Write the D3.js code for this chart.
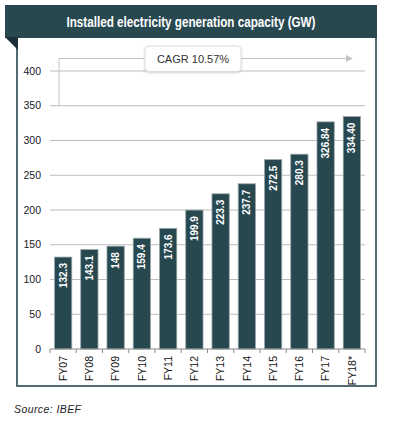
<!DOCTYPE html>
<html>
<head>
<meta charset="utf-8">
<script src="https://cdn.jsdelivr.net/npm/d3@7"></script>
<style>
  body { margin: 0; background: #fff; }
  svg { display: block; font-family: Arial, "Liberation Sans", sans-serif; }
</style>
</head>
<body>
<div id="chart"></div>
<script>
// chart data
const years = ["FY07", "FY08", "FY09", "FY10", "FY11", "FY12", "FY13", "FY14", "FY15", "FY16", "FY17", "FY18*"];
const capacity = [132.3, 143.1, 148, 159.4, 173.6, 199.9, 223.3, 237.7, 272.5, 280.3, 326.84, 334.40];
const valueLabels = ["132.3", "143.1", "148", "159.4", "173.6", "199.9", "223.3", "237.7", "272.5", "280.3", "326.84", "334.40"];
const yTicks = [0, 50, 100, 150, 200, 250, 300, 350, 400];
const cagrText = "CAGR 10.57%";
const cagrFrom = 350; // level where the bracket starts

const width = 393, height = 424;
const dark = "#284850";

const svg = d3.select("#chart").append("svg")
  .attr("width", width)
  .attr("height", height);

// soft shadow for the CAGR badge
svg.append("defs").append("filter")
  .attr("id", "shadow")
  .attr("x", "-20%").attr("y", "-40%")
  .attr("width", "140%").attr("height", "180%")
  .append("feDropShadow")
  .attr("dx", 0).attr("dy", 1)
  .attr("stdDeviation", 1.2)
  .attr("flood-color", "#000")
  .attr("flood-opacity", 0.18);

// frame + header
svg.append("rect")
  .attr("x", 17).attr("y", 37)
  .attr("width", 359).attr("height", 349)
  .attr("fill", "none")
  .attr("stroke", dark)
  .attr("stroke-width", 1.6);

svg.append("rect")
  .attr("x", 5).attr("y", 5)
  .attr("width", 372).attr("height", 33)
  .attr("fill", dark);

svg.append("path")
  .attr("d", "M5,37 L18,37 L18,50 Z")
  .attr("fill", "#1b3037");

svg.append("text")
  .attr("x", 191).attr("y", 27)
  .attr("text-anchor", "middle")
  .attr("fill", "#fff")
  .attr("font-size", 14.5)
  .attr("font-weight", "bold")
  .attr("textLength", 249)
  .attr("lengthAdjust", "spacingAndGlyphs")
  .text("Installed electricity generation capacity (GW)");

// scales
const x = d3.scaleBand()
  .domain(years)
  .range([50, 365])
  .paddingInner(0.34)
  .paddingOuter(0.17);

const y = d3.scaleLinear()
  .domain([0, 400])
  .range([349, 71]);

// gridlines
svg.append("g")
  .selectAll("line")
  .data(yTicks.filter(d => d > 0))
  .join("line")
  .attr("x1", 50).attr("x2", 365)
  .attr("y1", d => y(d)).attr("y2", d => y(d))
  .attr("stroke", "#bdbdbd")
  .attr("stroke-width", 1);

// y labels
svg.append("g")
  .selectAll("text")
  .data(yTicks)
  .join("text")
  .attr("x", 41)
  .attr("y", d => y(d))
  .attr("dy", "0.35em")
  .attr("text-anchor", "end")
  .attr("font-size", 10.5)
  .attr("fill", "#1a1a2a")
  .text(d => d);

// CAGR bracket
const bx = 59, by = 58.5;
svg.append("path")
  .attr("d", `M${bx},${y(cagrFrom)} V${by} H347`)
  .attr("fill", "none")
  .attr("stroke", "#c4c4c4")
  .attr("stroke-width", 1);
svg.append("path")
  .attr("d", `M346,${by - 3.5} L353,${by} L346,${by + 3.5} Z`)
  .attr("fill", "#c4c4c4");

svg.append("rect")
  .attr("x", 145).attr("y", 46)
  .attr("width", 96).attr("height", 25.5)
  .attr("rx", 4)
  .attr("fill", "#fff")
  .attr("stroke", "#dcdcdc")
  .attr("filter", "url(#shadow)");
svg.append("text")
  .attr("x", 193).attr("y", 63)
  .attr("text-anchor", "middle")
  .attr("font-size", 11)
  .attr("fill", "#333")
  .text(cagrText);

// bars
const rows = years.map((yr, i) => ({ yr, v: capacity[i], label: valueLabels[i] }));

svg.append("g")
  .selectAll("rect")
  .data(rows)
  .join("rect")
  .attr("x", d => x(d.yr))
  .attr("y", d => y(d.v))
  .attr("width", x.bandwidth())
  .attr("height", d => y(0) - y(d.v))
  .attr("fill", dark)
  .attr("stroke", "#9aa8ab")
  .attr("stroke-width", 0.8);

svg.append("g")
  .selectAll("text")
  .data(rows)
  .join("text")
  .attr("transform", d => `translate(${x(d.yr) + x.bandwidth() / 2},${y(d.v) + 6}) rotate(-90)`)
  .attr("text-anchor", "end")
  .attr("dy", "0.35em")
  .attr("font-size", 10)
  .attr("font-weight", "bold")
  .attr("fill", "#fff")
  .text(d => d.label);

// x axis
const step = x.step();
const bounds = years.map(d => x(d) - step * x.paddingInner() / 2).concat([365]);

svg.append("line")
  .attr("x1", 50).attr("x2", 365)
  .attr("y1", y(0)).attr("y2", y(0))
  .attr("stroke", "#8a8a8a");

svg.append("g")
  .selectAll("line")
  .data(bounds)
  .join("line")
  .attr("x1", d => d).attr("x2", d => d)
  .attr("y1", y(0)).attr("y2", y(0) + 4)
  .attr("stroke", "#8a8a8a");

svg.append("g")
  .selectAll("text")
  .data(years)
  .join("text")
  .attr("transform", d => `translate(${x(d) + x.bandwidth() / 2},${y(0) + 7}) rotate(-90)`)
  .attr("text-anchor", "end")
  .attr("dy", "0.35em")
  .attr("font-size", 10.5)
  .attr("fill", "#111")
  .text(d => d);

// source note
svg.append("text")
  .attr("x", 14).attr("y", 413)
  .attr("font-size", 10.5)
  .attr("font-style", "italic")
  .attr("fill", "#222")
  .attr("textLength", 67)
  .attr("lengthAdjust", "spacing")
  .text("Source: IBEF");
</script>
</body>
</html>
